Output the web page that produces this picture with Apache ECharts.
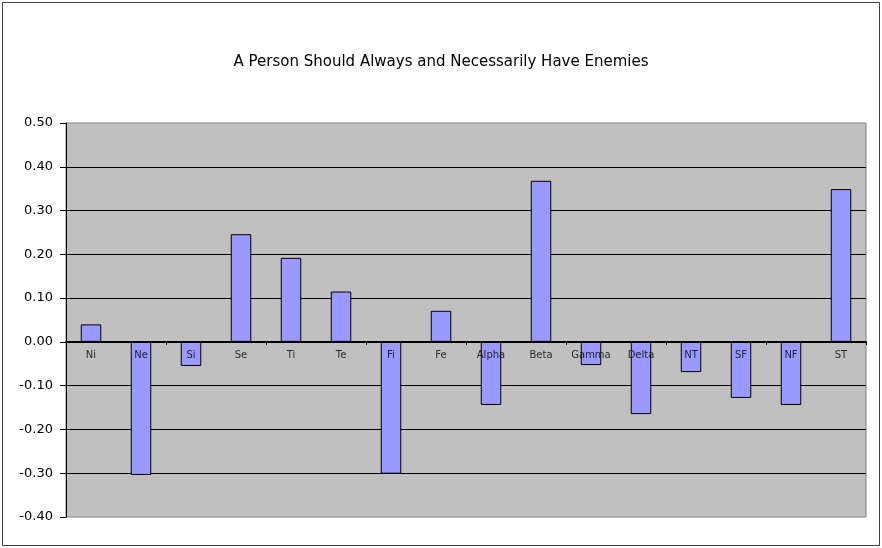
<!DOCTYPE html>
<html>
<head>
<meta charset="utf-8">
<script src="https://cdn.jsdelivr.net/npm/echarts@6/dist/echarts.min.js"></script>
<style>
  html, body { margin: 0; padding: 0; background: #fff; }
  #chart { width: 882px; height: 548px; }
</style>
</head>
<body>
<div id="chart"></div>
<script>
// data
const categories = ['Ni', 'Ne', 'Si', 'Se', 'Ti', 'Te', 'Fi', 'Fe', 'Alpha', 'Beta', 'Gamma', 'Delta', 'NT', 'SF', 'NF', 'ST'];
const values = [0.04, -0.304, -0.055, 0.246, 0.192, 0.115, -0.301, 0.071, -0.144, 0.368, -0.053, -0.165, -0.069, -0.128, -0.144, 0.349];
const yMin = -0.4;
const yMax = 0.5;
const yStep = 0.1;

const chart = echarts.init(document.getElementById('chart'));

// category names sit just under the zero line, drawn over the bars
const labelAnchors = categories.map(() => 0);

chart.setOption({
    animation: false,
    backgroundColor: '#ffffff',
    textStyle: { fontFamily: 'DejaVu Sans' },
    title: {
        text: 'A Person Should Always and Necessarily Have Enemies',
        left: 'center',
        top: 50,
        textStyle: { fontFamily: 'DejaVu Sans', fontSize: 15, fontWeight: 'normal', color: '#000' }
    },
    // outer frame
    graphic: [{
        type: 'rect',
        silent: true,
        shape: { x: 2.5, y: 2.5, width: 877, height: 543 },
        style: { fill: 'none', stroke: '#404040', lineWidth: 1 }
    }],
    grid: {
        left: 66,
        right: 16,
        top: 123,
        bottom: 31,
        show: true,
        backgroundColor: '#c0c0c0',
        borderColor: '#808080',
        borderWidth: 1
    },
    xAxis: {
        type: 'category',
        data: categories,
        z: 5,
        axisLine: { onZero: true, lineStyle: { color: '#000', width: 2 } },
        axisTick: { show: true, length: 3, lineStyle: { color: '#000' } },
        axisLabel: { show: false },
        splitLine: { show: false }
    },
    yAxis: {
        type: 'value',
        min: yMin,
        max: yMax,
        interval: yStep,
        axisLine: { show: true, lineStyle: { color: '#000' } },
        axisTick: { show: true, length: 6, lineStyle: { color: '#000' } },
        axisLabel: {
            fontSize: 13,
            color: '#000',
            margin: 13,
            formatter: v => v.toFixed(2)
        },
        splitLine: {
            show: true,
            showMinLine: false,
            showMaxLine: false,
            lineStyle: { color: '#000', width: 1 }
        }
    },
    series: [{
        type: 'bar',
        data: values,
        barWidth: '41%',
        itemStyle: { color: '#9999ff', borderColor: '#000', borderWidth: 1 }
    }, {
        type: 'scatter',
        data: labelAnchors,
        symbolSize: 0,
        silent: true,
        z: 6,
        label: {
            show: true,
            position: 'bottom',
            distance: 9,
            formatter: p => categories[p.dataIndex],
            fontFamily: 'DejaVu Sans',
            fontSize: 10,
            color: '#000'
        }
    }]
});
</script>
</body>
</html>
